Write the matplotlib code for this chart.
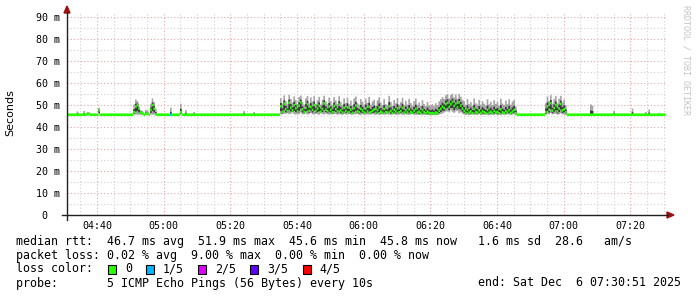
import numpy as np
from matplotlib import pyplot as plt
from matplotlib.lines import Line2D
from matplotlib.patches import Polygon, Rectangle

# --- data (ms, time in minutes after 04:30) ---
base_rtt = 45.8
step = 0.5

# busy period 05:35 - 06:45, one sample every 30 s
busy_start = 65.0
busy_med = [49.6, 47.1, 50.8, 48.3, 47.4, 51.2, 49.0, 47.8, 50.1, 48.7,
            47.3, 49.9, 51.4, 48.2, 47.0, 48.9, 50.6, 47.6, 49.3, 48.0,
            50.2, 47.5, 48.6, 49.8, 47.2, 48.4, 51.0, 48.1, 47.4, 49.5,
            48.0, 46.9, 49.7, 48.3, 47.3, 50.4, 47.8, 46.8, 48.9, 47.5,
            49.2, 47.0, 48.1, 46.7, 48.8, 50.0, 47.4, 46.9, 48.5, 47.7,
            46.8, 48.6, 47.3, 49.4, 46.9, 47.6, 48.2, 46.6, 47.9, 49.1,
            47.2, 46.7, 48.4, 47.0, 46.8, 49.6, 47.5, 46.6, 48.0, 47.3,
            48.7, 46.9, 47.4, 48.9, 46.7, 47.8, 46.8, 48.3, 47.1, 46.6,
            47.6, 48.5, 46.8, 47.2, 46.6, 47.9, 46.9, 46.5, 47.3, 46.7,
            46.4, 46.6, 46.3, 46.8, 46.5, 47.6, 48.4, 49.5, 48.8, 50.6,
            51.2, 49.3, 50.5, 51.6, 49.8, 50.9, 49.1, 51.4, 50.0, 48.6,
            47.5, 46.6, 48.1, 46.8, 47.3, 46.5, 48.4, 47.0, 46.7, 47.8,
            46.6, 47.4, 46.9, 46.5, 48.0, 46.7, 47.2, 46.6, 47.6, 46.8,
            47.1, 46.5, 48.2, 46.9, 46.6, 47.5, 46.8, 47.9, 46.6, 47.3,
            48.0, 46.5]
busy_hi = [53.4, 50.9, 54.6, 52.1, 50.6, 54.8, 53.0, 51.2, 54.1, 52.5,
           50.7, 53.9, 54.5, 51.6, 50.4, 53.2, 54.3, 50.9, 53.7, 51.8,
           54.2, 50.8, 52.4, 53.9, 50.5, 52.6, 54.4, 51.9, 50.6, 53.6,
           52.0, 50.3, 53.8, 52.3, 50.7, 54.2, 51.5, 50.2, 53.3, 51.1,
           53.6, 50.5, 52.2, 50.1, 53.2, 54.1, 51.0, 50.4, 52.9, 51.7,
           50.3, 53.1, 51.2, 53.9, 50.4, 51.8, 52.6, 50.0, 52.3, 53.7,
           51.3, 50.1, 52.9, 50.6, 50.2, 54.4, 51.6, 50.0, 52.5, 51.0,
           53.4, 50.3, 51.5, 53.5, 50.1, 52.1, 50.4, 53.0, 51.1, 50.0,
           52.0, 53.1, 50.3, 51.4, 49.9, 52.4, 50.6, 49.8, 51.6, 50.2,
           49.9, 50.6, 49.7, 51.0, 50.2, 51.9, 52.9, 53.9, 53.0, 54.6,
           55.2, 53.2, 54.8, 55.3, 53.6, 55.0, 53.1, 55.2, 54.0, 52.6,
           52.0, 50.3, 52.9, 50.6, 51.6, 50.0, 53.2, 51.0, 50.4, 52.5,
           50.3, 51.9, 50.8, 50.0, 52.8, 50.5, 51.7, 50.2, 52.4, 50.7,
           51.5, 50.0, 53.1, 50.9, 50.3, 52.2, 50.6, 52.8, 50.4, 51.8,
           52.6, 49.6]
busy_lo = [46.0, 45.9, 46.3, 46.1, 46.5, 46.0, 46.2, 46.8, 46.0, 45.9,
           46.2, 46.0, 46.7, 45.9, 46.1, 46.4, 45.8, 46.1, 46.6, 46.0,
           45.9, 46.2, 46.0, 45.8, 46.5, 46.1, 45.9, 46.3, 46.0, 45.8,
           46.1, 45.9, 46.0, 46.2, 45.8, 46.0, 45.9, 45.7, 46.1, 45.9,
           46.0, 46.1, 45.8, 45.8, 46.0, 45.9, 46.2, 45.8, 45.7, 46.0,
           45.9, 45.8, 46.0, 45.8, 45.9, 46.1, 45.8, 45.8, 46.0, 45.7,
           45.9, 46.0, 45.8, 45.9, 46.1, 45.8, 45.7, 45.9, 46.0, 45.8,
           45.8, 45.9, 46.0, 45.7, 45.8, 46.0, 45.8, 45.7, 45.9, 46.1,
           45.8, 45.7, 45.8, 45.7, 45.8, 45.6, 45.8, 45.7, 45.7, 45.6,
           45.6, 45.6, 45.7, 45.6, 45.7, 45.9, 46.1, 46.4, 46.8, 47.2,
           47.5, 46.9, 47.8, 47.1, 46.6, 47.3, 47.6, 46.5, 46.9, 46.3,
           45.9, 45.7, 45.9, 45.6, 45.8, 46.0, 45.7, 45.8, 45.7, 46.0,
           45.7, 45.8, 45.7, 45.9, 45.7, 45.6, 45.8, 45.8, 45.7, 45.9,
           45.7, 45.8, 45.6, 45.9, 45.8, 45.7, 46.0, 45.8, 45.7, 45.9,
           46.0, 45.7]

# second busy period 06:54 - 07:01
burst_start = 144.5
burst_med = [47.0, 49.6, 48.1, 51.0, 47.6, 48.8, 50.2, 47.3, 48.6, 50.7, 47.8, 48.3, 46.9]
burst_hi = [51.0, 54.1, 52.0, 54.7, 50.8, 52.9, 54.2, 50.9, 53.1, 54.4, 51.3, 52.6, 50.2]
burst_lo = [45.8, 46.2, 46.0, 46.5, 45.9, 46.1, 46.3, 45.8, 46.0, 46.4, 45.9, 46.0, 45.7]

# isolated spikes in the quiet periods
spike_t = [4.0, 6.0, 7.0, 7.5, 10.5, 21.0, 21.5, 22.0, 22.5, 23.0, 23.5, 24.5, 25.0,
           26.0, 26.5, 27.0, 27.5, 32.0, 35.0, 36.5, 39.0, 54.0, 57.0,
           158.0, 158.5, 165.0, 170.5, 174.5, 175.5, 178.5]
spike_med = [45.8, 45.8, 46.2, 46.2, 47.8, 47.0, 49.5, 50.2, 48.5, 46.8, 46.4, 46.3, 46.5,
             48.0, 50.2, 48.5, 46.0, 45.8, 47.0, 45.8, 45.8, 45.8, 45.8,
             45.8, 45.8, 45.8, 45.8, 45.8, 45.8, 45.8]
spike_hi = [47.3, 47.5, 46.9, 46.8, 49.0, 50.5, 52.7, 52.0, 49.5, 47.9, 47.5, 48.0, 47.8,
            50.5, 53.2, 51.5, 48.5, 49.0, 50.8, 47.9, 47.0, 47.5, 47.0,
            50.5, 50.0, 47.7, 48.6, 47.0, 48.2, 46.6]
loss_t = [32.0]
loss_n = [1]

loss_labels = ["0", "1/5", "2/5", "3/5", "4/5"]
loss_colors = ["#26ff00", "#00b8ff", "#dd00ff", "#5e00ff", "#ff0000"]

# --- assemble the series on a 30 s grid ---
t = np.arange(1.0, 181.0, step)
med = np.full(len(t), base_rtt)
hi = med.copy()
lo = med.copy()
loss = np.zeros(len(t), dtype=int)


def idx(x):
    return int(round((x - t[0]) / step))


i0 = idx(busy_start)
med[i0:i0 + len(busy_med)] = busy_med
hi[i0:i0 + len(busy_hi)] = busy_hi
lo[i0:i0 + len(busy_lo)] = busy_lo
i1 = idx(burst_start)
med[i1:i1 + len(burst_med)] = burst_med
hi[i1:i1 + len(burst_hi)] = burst_hi
lo[i1:i1 + len(burst_lo)] = burst_lo
for st, smed, sh in zip(spike_t, spike_med, spike_hi):
    med[idx(st)] = smed
    hi[idx(st)] = sh
for lt, ln in zip(loss_t, loss_n):
    loss[idx(lt)] = ln

# --- figure ---
W, H = 697, 297
fig = plt.figure(figsize=(W / 100, H / 100), dpi=100)


def px(x, y):
    return (x / W, 1 - y / H)


ax = fig.add_axes([66.5 / W, 1 - 215 / H, 600 / W, 202 / H])
ax.set_xlim(0.85, 180.85)
ax.set_ylim(0, 91.8)
for s in ax.spines.values():
    s.set_visible(False)

ax.set_yticks(np.arange(0, 91, 10))
ax.set_yticks(np.arange(5, 91, 10), minor=True)
ax.set_yticklabels(["0  "] + ["%d m" % v for v in range(10, 91, 10)])
ax.set_xticks(np.arange(10, 171, 20))
ax.set_xticks(np.arange(5, 181, 5), minor=True)
ax.set_xticklabels(["04:40", "05:00", "05:20", "05:40", "06:00", "06:20", "06:40", "07:00", "07:20"])
ax.grid(which="minor", color="#d0d0d0", linestyle=(0, (1, 2)), linewidth=0.8)
ax.grid(which="major", color="#e6a6a6", linestyle=(0, (1, 2)), linewidth=0.8)
ax.set_axisbelow(True)
ax.tick_params(which="both", length=0)
ax.tick_params(axis="x", pad=4.5, labelsize=7.2, labelfontfamily="DejaVu Sans Mono")
ax.tick_params(axis="y", pad=5, labelsize=7.2, labelfontfamily="DejaVu Sans Mono")

# smoke: light for the full spread, dark for the inner pings
hi_d = med + 0.4 * (hi - med)
lo_d = lo + 0.4 * (med - lo)
ax.fill_between(t, lo, hi, step="mid", color="#a6a6a6", linewidth=0)
ax.fill_between(t, lo_d, hi_d, step="mid", color="#383838", linewidth=0)

# median, coloured by loss
half = 0.6
ax.fill_between(t, med - half, med + half, step="mid", color=loss_colors[0], linewidth=0)
lm = loss > 0
ax.bar(t[lm], 2 * half, bottom=med[lm] - half, width=step,
       color=[loss_colors[n] for n in loss[lm]], linewidth=0)

# axes with arrows
axis_col = "#202020"
arrow_col = "#a01010"
fig.add_artist(Line2D(*zip(px(62, 215), px(668, 215)), color=axis_col, lw=1.0))
fig.add_artist(Line2D(*zip(px(67, 220), px(67, 12)), color=axis_col, lw=1.0))
fig.add_artist(Polygon([px(667, 212), px(674, 215), px(667, 218)], closed=True, color=arrow_col))
fig.add_artist(Polygon([px(64, 13), px(67, 6), px(70, 13)], closed=True, color=arrow_col))

fig.text(*px(10, 113), "Seconds", rotation=90, ha="center", va="center", fontsize=8,
         family="DejaVu Sans")
fig.text(*px(686, 60), "RRDTOOL / TOBI OETIKER", rotation=270, ha="center", va="center",
         fontsize=6, family="DejaVu Sans Mono", color="#c4c4c4")

# legend text
mono = dict(family="DejaVu Sans Mono", fontsize=8.4, va="center")
fig.text(*px(16, 241), "median rtt:  46.7 ms avg  51.9 ms max  45.6 ms min  45.8 ms now   1.6 ms sd  28.6   am/s", **mono)
fig.text(*px(16, 255), "packet loss: 0.02 % avg  9.00 % max  0.00 % min  0.00 % now", **mono)
fig.text(*px(16, 269), "loss color:", **mono)
fig.text(*px(16, 283), "probe:       5 ICMP Echo Pings (56 Bytes) every 10s", **mono)
fig.text(*px(681, 283), "end: Sat Dec  6 07:30:51 2025", ha="right", **mono)

bx = 108
for lab, col in zip(loss_labels, loss_colors):
    x0, y0 = px(bx, 274)
    fig.add_artist(Rectangle((x0, y0), 8 / W, 9 / H, facecolor=col, edgecolor="black", lw=0.8))
    fig.text(*px(bx + 17, 269), lab, **mono)
    bx += 17 + 7.05 * len(lab) + 14

fig.savefig("out.png", dpi=100)
plt.close(fig)
